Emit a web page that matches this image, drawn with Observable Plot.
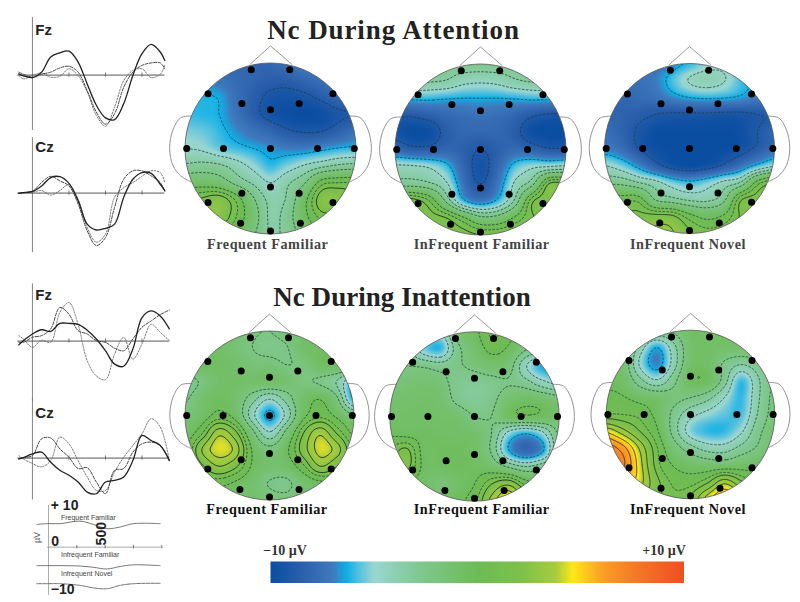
<!DOCTYPE html>
<html><head><meta charset="utf-8">
<script src="https://cdn.jsdelivr.net/npm/d3@7"></script>
<script src="https://cdn.jsdelivr.net/npm/@observablehq/plot@0.6"></script>
<style>
html,body{margin:0;padding:0;background:#fff;overflow:hidden}
#page{position:relative;width:800px;height:602px;overflow:hidden}
#page>svg,#page>div.p{position:absolute}
.t{position:absolute;font-family:"Liberation Serif",serif;font-weight:bold;white-space:nowrap;transform:translateX(-50%);line-height:1}
</style></head><body><div id="page"></div>
<script>
// Electrode positions on the unit head
const electrodeX=[-.225,.225,-.73,.73,-.335,.335,0,-.98,-.55,0,.55,.98,0,-.335,.335,-.73,.73,-.35,.35,0];
const electrodeY=[-.92,-.92,-.64,-.64,-.527,-.527,-.453,0,0,0,0,0,.45,.523,.523,.633,.633,.875,.875,.965];
// Colour bar stops (µV)
const colorStops=[-10,-8.5,-7,-6.3,-5.8,-5,-2.8,0,2,3.8,4.6,6,7.6,10];
const colorRange=["#0a4ea2","#2b5fab","#3f7abd","#0fb0e6","#4dbfe0","#9ad6d2","#80c890","#6dbb55","#7cc04c","#a8cc3e","#ffe81a","#fba026","#f47a25","#f04e23"];
// Potential maps (µV) on an 11×11 grid
const mapAttFF=[
[-8,-8,-8,-8,-8,-8,-7.5,-6.8,-6.5,-6.5,-6.5],
[-7,-7,-7.3,-7.8,-8.2,-8.5,-8.5,-8,-7.5,-7,-7],
[-6.2,-6.2,-6.4,-7.5,-8.5,-9.3,-9.5,-9.3,-8.7,-8,-8],
[-6,-6.1,-6.3,-7.3,-8.5,-9.5,-9.9,-10,-9.8,-9.2,-9],
[-5.3,-5.5,-6,-6.7,-7.4,-8,-8.8,-9.1,-9,-8.3,-7.5],
[-4.6,-4.8,-5.5,-5.9,-6.3,-6.7,-7,-7,-6.6,-6.2,-6],
[-3.2,-3,-3.2,-4,-5,-6,-5.3,-4.5,-3.8,-3.2,-3],
[-1,-.9,-1.3,-2.6,-3.6,-4.6,-3.6,-2.3,.4,.8,.8],
[1,1.8,2.3,.6,-2,-3.7,-3.2,-.6,2.3,2.4,1.5],
[1,2,2.4,.8,-1.4,-3.6,-2.8,-.6,1.1,1.1,.5],
[.5,.5,.7,-.3,-2,-3.5,-3,-1.5,-.5,0,0]];
const mapAttIF=[
[-3,-3,-3,-3,-2.8,-2.8,-2.8,-3,-3,-3,-3],
[-3.2,-3.2,-3.3,-3.5,-4.2,-4.4,-4.2,-3.6,-3.3,-3.2,-3.2],
[-6,-6,-6,-6.2,-6.3,-6.3,-6.3,-6.2,-6,-6,-6],
[-8.8,-8.8,-8.4,-7.9,-7.6,-7.4,-7.6,-8,-8.8,-9.2,-9.2],
[-9.5,-10,-9.8,-8.6,-8,-8,-8,-8.6,-9.8,-10,-10],
[-7.8,-8.5,-8.5,-8,-8.4,-9,-8.4,-7.8,-8.2,-8.8,-8.8],
[-4.3,-4.4,-4.8,-5.9,-8,-9.5,-8,-5.8,-4.9,-4.6,-4.3],
[-2.8,-2.8,-3.2,-4.4,-7.4,-9,-7.3,-4.4,-2.7,1.6,1.7],
[2,2,.8,-2.5,-6,-7.2,-6,-3.2,1.3,2.2,2.2],
[2,2,2,1.6,0,-1.8,-1.6,0,1.5,2,2],
[2,2,2,2,2,1.6,1.6,2,2,2,2]];
const mapAttIN=[
[-7.5,-7.5,-7.5,-7.4,-6.8,-6,-5.2,-5,-6,-7,-7],
[-7.5,-7.6,-7.5,-7,-5.8,-4.5,-4,-4.5,-5.8,-6.5,-6.5],
[-8,-8,-7.8,-7.5,-6.8,-6.3,-6.1,-6.2,-6.5,-7,-7],
[-8,-8.3,-8.6,-9,-9.2,-9.2,-9.2,-9.3,-9.3,-9,-8.8],
[-7.6,-8.2,-9.2,-9.9,-10,-10,-10,-10,-9.8,-9,-8.2],
[-7,-7.6,-9,-9.8,-10,-10,-10,-10,-9.6,-8.7,-7.7],
[-4.6,-5.4,-6.8,-8.5,-9.6,-10,-9.7,-8.8,-7.5,-6,-4.8],
[-2.5,-2.6,-3.4,-4.2,-5.4,-6,-5.4,-4.3,-3.3,.3,1.6],
[.4,.4,.4,-2.3,-3,-3.6,-3.7,-2.6,1.4,2,2],
[1.8,1.8,1.9,2,1.8,.3,-.6,0,1.7,2,2],
[2,2,2.2,3,2.9,1.8,1.2,1.4,1.8,2,2]];
const mapInFF=[
[-1.2,-1.2,-1.2,-1.3,-2,-2.2,-1.6,-1.2,-1.2,-1.2,-1.2],
[-1,-1,-.9,-1.5,-2.2,-2.6,-2.3,-1,-.6,-.7,-.8],
[-1,-.8,-.7,-1.1,-1.7,-1.7,-2.2,-1.9,-.8,-.6,-1],
[-2.8,-2,-1,-.9,-1,-.8,-1.3,-2,-2.4,-3.5,-6],
[-2.4,-1.2,-.5,-1.2,-2.9,-4.5,-2.9,-1,-.3,-2,-6.5],
[-1.6,-.9,.2,-.8,-4.2,-6.6,-4.2,-.6,.5,-.5,-2],
[-1,.6,3.4,1.8,-1.8,-4.5,-1.8,1.5,3.5,1.4,-.5],
[-.5,2.8,4.3,3.4,-.4,-1.8,-.5,2.2,4.2,3.3,.5],
[-.5,1.4,2.8,1.8,-.4,-1.2,-1,.6,2.8,1.6,0],
[-.5,0,.2,-.4,-1.2,-2.3,-2.5,-1.2,-.5,-.3,-.3],
[-1,-1,-1,-1,-1.2,-1.6,-1.8,-1.2,-1,-1,-1]];
const mapInIF=[
[-3,-3,-3.5,-4.5,-1.5,-.6,1,.3,-1,-1.5,-2],
[-2.5,-3,-5.3,-6,-2.6,-1.2,.2,-.4,-2,-2.8,-3],
[-2.2,-2.2,-2.4,-2.8,-2.4,-1.8,-1.2,-1.5,-4.4,-6.2,-6.2],
[-1.8,-1.5,-1.3,-1.7,-2.8,-3,-2.7,-2.3,-2.9,-4.2,-5],
[-1.2,-1.1,-1,-1.2,-2.6,-3.1,-2.6,-1.3,-.8,-1,-1.6],
[-1,-.9,-.9,-1,-1.2,-2.2,-2.2,-.8,-.4,-.6,-1.2],
[-.4,-.6,-.6,-.7,-.9,-1,-2.2,-5,-6.2,-5,-2],
[1,1.8,-.6,-.5,-.5,-.9,-2.4,-6.2,-8,-6.6,-2.2],
[1.8,1.9,-.5,-.7,-.5,-.6,-1,-2.2,-3.2,-2.5,-1.5],
[-.6,-.6,-.9,-1.6,-.9,-.2,1.6,2.6,.6,-.7,-.8],
[-.7,-.7,-.7,-.8,-.5,.5,3.2,5,2.5,-.3,-.5]];
const mapInIN=[
[-1,-1,-1.5,-2.2,-2,-.8,-.8,-.8,-.8,-.8,-.8],
[-1,-1.4,-3.8,-6.2,-3.8,-1.2,-.8,-1,-1.1,-1,-1],
[-1,-1.3,-4.8,-6.9,-4,-1,-.9,-2.4,-3.3,-2.6,-2],
[-.6,-.9,-3,-4.4,-2.6,-.5,-.6,-2.8,-5.9,-3.6,-2],
[.2,-.1,-.7,-1.1,-1.8,-2.2,-3,-4.6,-6,-3.6,-1.8],
[.9,.8,.5,-.6,-2.6,-4.2,-5,-5.6,-5.8,-3.3,-1.7],
[4.6,3.2,1.6,0,-2.7,-5.2,-6,-6,-4.8,-2.6,-1.4],
[7.5,6.2,3.6,.9,-1.4,-2.9,-3.9,-4,-3,-2,-1.2],
[8,7,4.2,1.2,-.3,-.9,-1.2,-1.2,-.9,-.7,-.5],
[6,5.5,4.2,1.9,.6,.4,1.4,3.4,1.8,.4,0],
[3,3,3,2,1,1.8,4.3,6,4.6,2,1]];
// Waveforms (ms, µV)
const tAtt=[-75,-50,0,50,100,150,200,250,300,350,400,450,500,550,600,650,700,725];
const tIn=[-75,-50,0,50,100,150,200,250,300,350,400,450,500,550,600,650,700,750];
const fzAttA=[.3,-.2,-.6,.7,4.3,5.3,5.7,3.1,-2.1,-7.2,-10.2,-10.6,-6.8,-.1,5.1,7.3,5.5,3.5];
const fzAttB=[.7,.2,-.5,.2,.7,1.7,2.1,.7,-3.7,-8.8,-11.7,-9.2,-2.9,.7,2.3,2.9,2.9,1.5];
const fzAttC=[-.1,-.9,-.1,.5,-.5,-.3,1.5,-.1,-4,-9.6,-12.2,-7.6,-1.3,1.1,1.5,-.6,.2,2.3];
const czAttA=[0,.1,.4,1.7,3.7,3.9,2.3,-1.8,-7.4,-8.8,-8.4,-7.4,-1,3.3,4.9,4.7,2.1,.6];
const czAttB=[-.1,.1,.4,2.5,4,2.9,1.7,-2.6,-9,-12.5,-10.6,-3.4,3.3,5.3,5.3,4.1,2.5,.4];
const czAttC=[-.1,0,.2,.6,-.5,.6,2,-1.4,-8.2,-11.7,-9.8,-1,1.3,2.5,4,5.3,4.9,2.5];
const fzInA=[-.9,.1,1.7,2.7,2.3,4.2,4.2,4,2.6,.5,-2.3,-5.5,-6,-1.9,5.6,7.2,6,2.9];
const fzInB=[-.3,-.3,.9,1.3,2.9,8,6.4,2.5,1.7,.1,-.3,-1.7,-2.3,.5,3.3,4.8,6.3,7.4];
const fzInC=[1.3,.5,-1.5,.2,-.3,6.8,9.2,4,-4.7,-8.3,-9.2,-3.1,.9,-4.3,-.7,4,2.1,.1];
const czInA=[-.2,.1,1,1.4,-1,-2.9,-4.1,-5.7,-8.1,-8.5,-5.7,-5.3,-4.5,-.6,5.4,4.2,3,-.6];
const czInB=[-.2,.1,.6,4.6,4.8,2.2,.2,-2.5,-2.3,-5.7,-8.5,-2.9,-2.5,1.4,3.4,3.8,3,-.6];
const czInC=[.6,-.2,-1.3,-2.1,-.6,5,3.4,-.6,-4.5,-7.7,-7.7,-3.3,.2,3,5.8,9.4,7.4,-.6];
// Key traces
const tKey=[-103,-15,103,279,397,515,632,750,985];
const keyFF=[5.4,5.6,5.6,6.2,5.4,4.4,4.8,5.6,5.6];
const keyIF=[-4.4,-4.4,-4.4,-4.5,-4.8,-5.2,-4.6,-4.2,-4.4];
const keyIN=[-8.7,-8.7,-8.7,-9.1,-9.7,-9.9,-9.1,-8.7,-8.6];
// Head outline
const noseX=[-.24,0,.25],noseY=[-.984,-1.2,-.984];
const earX=[.93,1.05,1.14,1.18,1.14,1.05,.93],earY=[-.38,-.36,-.22,0,.2,.32,.39];

const page=document.getElementById("page");
const color={type:"linear",domain:colorStops,range:colorRange,clamp:true};
function place(el,left,top){el.style.position="absolute";el.style.left=left+"px";el.style.top=top+"px";page.appendChild(el);return el;}
function text(s,cx,top,size,col,extra){const d=document.createElement("div");d.className="t";d.textContent=s;d.style.left=cx+"px";d.style.top=top+"px";d.style.fontSize=size+"px";d.style.color=col;if(extra)Object.assign(d.style,extra);page.appendChild(d);}

function sampler(grid){
  const n=grid.length-1;
  const g=(i,j)=>grid[Math.max(0,Math.min(n,j))][Math.max(0,Math.min(n,i))];
  const cr=(a,b,c,d,t)=>b+.5*t*(c-a+t*(2*a-5*b+4*c-d+t*(3*(b-c)+d-a)));
  return (x,y)=>{
    const u=(x+1)/2*n,v=(y+1)/2*n,i=Math.floor(u),j=Math.floor(v),s=u-i,t=v-j;
    const r=[-1,0,1,2].map(k=>cr(g(i-1,j+k),g(i,j+k),g(i+1,j+k),g(i+2,j+k),s));
    return cr(r[0],r[1],r[2],r[3],t);
  };
}
let uid=0;
function head(grid,cx,cy,r){
  const f=sampler(grid),S=110,L=S/r,E=1.04,id="clip"+(uid++);
  const box={x1:-E,x2:E,y1:-E,y2:E,pixelSize:1};
  const el=Plot.plot({width:2*S,height:2*S,margin:0,style:{background:"transparent"},
    x:{domain:[-L,L],axis:null},y:{domain:[-L,L],reverse:true,axis:null},color,
    marks:[
      Plot.raster(null,{...box,fill:f}),
      Plot.contour(null,{...box,value:f,thresholds:[-9,-6.3,-4.6,-3.4,-2.2,-.2,.8],stroke:"#1f3a3a",strokeWidth:.75,strokeDasharray:"2.5,1.5",fill:"none"}),
      Plot.contour(null,{...box,value:f,thresholds:[1.6,2.8,3.8,4.8,5.8,6.8,7.8],stroke:"#1c2b12",strokeWidth:.85,fill:"none"}),
      Plot.line(noseX.map((x,i)=>[x,noseY[i]]),{x:"0",y:"1",stroke:"#999",strokeWidth:1}),
      Plot.line(earX.map((x,i)=>[x,earY[i]]),{x:"0",y:"1",stroke:"#888",strokeWidth:.9,curve:"catmull-rom"}),
      Plot.line(earX.map((x,i)=>[-x,earY[i]]),{x:"0",y:"1",stroke:"#888",strokeWidth:.9,curve:"catmull-rom"}),
      Plot.dot([[0,0]],{x:"0",y:"1",r:r,stroke:"#555",strokeWidth:.8,fill:"none"}),
      Plot.dot(electrodeX.map((x,i)=>[x,electrodeY[i]]),{x:"0",y:"1",r:3.5,fill:"#000",stroke:"none"})
    ]});
  const cp=document.createElementNS("http://www.w3.org/2000/svg","clipPath");cp.id=id;
  const c=document.createElementNS("http://www.w3.org/2000/svg","circle");
  c.setAttribute("cx",S);c.setAttribute("cy",S);c.setAttribute("r",r);cp.appendChild(c);el.appendChild(cp);
  el.querySelectorAll('[aria-label="raster"],[aria-label="contour"]').forEach(n=>n.setAttribute("clip-path",`url(#${id})`));
  place(el,cx-S,cy-S);
}
head(mapAttFF,269.5,147.5,85.5);
head(mapAttIF,480.3,149,85.5);
head(mapAttIN,689,147.7,85);
head(mapInFF,268.7,415.3,84.5);
head(mapInIF,473.7,415.7,84.7);
head(mapInIN,689.7,414.3,84.3);

function erp(label,t,a,b,c,baselineY,ruleTop,ruleBottom,tEnd,labelY){
  const H=120,W=180,top=baselineY-59.7;
  const rows=(v)=>t.map((x,i)=>[x,v[i]]);
  const el=Plot.plot({width:W,height:H,margin:0,style:{background:"transparent",overflow:"visible"},
    x:{domain:[-175,811],axis:null},y:{domain:[-14.4,14.2],axis:null},
    marks:[
      Plot.ruleX([0],{y1:ruleBottom,y2:ruleTop,stroke:"#777",strokeWidth:.9,clip:false}),
      Plot.ruleY([0],{x1:-80,x2:tEnd,stroke:"#444",strokeWidth:.9}),
      Plot.ruleX([200,400,600],{y1:-.5,y2:.5,stroke:"#555",strokeWidth:.8}),
      Plot.line(rows(c),{x:"0",y:"1",stroke:"#666",strokeWidth:.9,strokeDasharray:"1.5,1.5",curve:"catmull-rom"}),
      Plot.line(rows(b),{x:"0",y:"1",stroke:"#444",strokeWidth:1,strokeDasharray:"3,1.5",curve:"catmull-rom"}),
      Plot.line(rows(a),{x:"0",y:"1",stroke:"#222",strokeWidth:1.3,curve:"catmull-rom"}),
      Plot.text([label],{x:16,y:labelY,text:d=>d,textAnchor:"start",fontFamily:"Liberation Sans",fontWeight:"bold",fontSize:15,fill:"#222"})
    ]});
  place(el,0,top);
}
erp("Fz",tAtt,fzAttA,fzAttB,fzAttC,74.7,13.7,-13.2,725,10.7);
erp("Cz",tAtt,czAttA,czAttB,czAttC,192.3,13.2,-14.2,725,10.9);
erp("Fz",tIn,fzInA,fzInB,fzInC,340.3,13.6,-14.4,750,10.9);
erp("Cz",tIn,czInA,czInB,czInC,457.7,14.2,-10,750,10.7);

// Key
(function(){
  const rows=v=>tKey.map((x,i)=>[x,v[i]]);
  const lab=(s,y)=>Plot.text([s],{x:110,y,text:d=>d,textAnchor:"start",fontFamily:"Liberation Sans",fontSize:7,fill:"#444"});
  const big=(s,x,y,o={})=>Plot.text([s],{x,y,text:d=>d,textAnchor:"start",fontFamily:"Liberation Sans",fontWeight:"bold",fontSize:14,fill:"#222",...o});
  const el=Plot.plot({width:150,height:105,margin:0,style:{background:"transparent"},
    x:{domain:[-159,1165],axis:null},y:{domain:[-12.7,12.3],axis:null},
    marks:[
      Plot.ruleX([0],{y1:-11.5,y2:10,stroke:"#999",strokeWidth:.8}),
      Plot.ruleY([0],{x1:-10,x2:1000,stroke:"#888",strokeWidth:.7}),
      Plot.ruleX([250,500,750,1000],{y1:-.4,y2:.4,stroke:"#555",strokeWidth:.8}),
      Plot.line(rows(keyFF),{x:"0",y:"1",stroke:"#555",strokeWidth:.8,curve:"catmull-rom"}),
      Plot.line(rows(keyIF),{x:"0",y:"1",stroke:"#555",strokeWidth:.8,curve:"catmull-rom"}),
      Plot.line(rows(keyIN),{x:"0",y:"1",stroke:"#555",strokeWidth:.9,strokeDasharray:"1.5,1",curve:"catmull-rom"}),
      lab("Frequent Familiar",6.9),lab("Infrequent Familiar",-1.9),lab("Infrequent Novel",-6.4),
      big("+ 10",20,9.9),big("0",25,1.3),big("−10",20,-10),
      big("500",470,3.2,{rotate:-90,textAnchor:"middle"}),
      Plot.text(["µV"],{x:-100,y:2.3,text:d=>d,rotate:-90,fontFamily:"Liberation Sans",fontSize:9,fill:"#666"})
    ]});
  place(el,30,495);
})();

// Colour bar
(function(){
  const el=Plot.plot({width:414,height:22,margin:0,style:{background:"transparent"},
    x:{domain:[-10,10],axis:null},y:{domain:[0,1],axis:null},color,
    marks:[Plot.raster(null,{x1:-10,x2:10,y1:0,y2:1,pixelSize:1,fill:(x,y)=>x})]});
  place(el,270,560.5);
})();

text("Nc During Attention",393.5,17,27,"#222",{letterSpacing:".9px"});
text("Nc During Inattention",402,284,27,"#222",{letterSpacing:".05px"});
const ls={letterSpacing:".55px"};
text("Frequent Familiar",267.7,236.5,14.2,"#444",ls);
text("InFrequent Familiar",481.7,236.5,14.2,"#444",ls);
text("InFrequent Novel",688,236.5,14.2,"#444",ls);
text("Frequent Familiar",267,501.5,14.2,"#111",ls);
text("InFrequent Familiar",481.7,501.5,14.2,"#111",ls);
text("InFrequent Novel",688,501.5,14.2,"#111",ls);
text("−10 µV",285,544,14,"#333");
text("+10 µV",664,544,14,"#333");
</script></body></html>
